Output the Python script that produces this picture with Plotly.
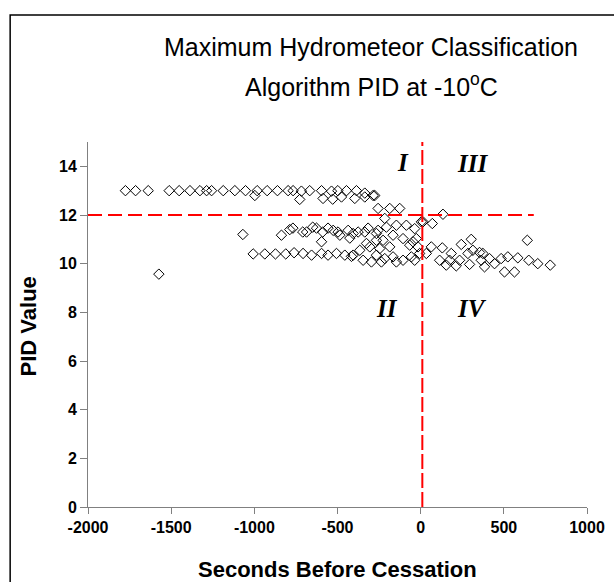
import plotly.graph_objects as go

# Seconds before cessation (x) and PID value (y)
secs = [
    # top row ~13
    -1775, -1714, -1638, -1512, -1452, -1387, -1327, -1287, -1257, -1187, -1117,
    -1053, -983, -923, -861, -797, -767, -717, -667, -596, -536, -498, -446,
    -386, -336, -997, -727, -587, -529, -476, -396, -286, -276, -336,
    # near 12
    -256, -186, -126, -216, 134, 4, 70,
    # middle band ~11.3
    -1069, -837, -787, -768, -709, -686, -649, -626, -589, -596, -557, -526,
    -497, -486, -436, -426, -406, -376, -336, -316, -266, -256, -206, -146,
    -86, -166, -226, -106, -306, -366, -246, -186, -66, -36, -26, -46, -16,
    14, -326, -266,
    # lower band ~10.4
    -1007, -937, -873, -811, -761, -707, -656, -596, -557, -506, -456, -416,
    -406, -346, -266, -216, -166, -106, -56, -6, -36, -296, -236, -146,
    34, 64, 130, 114, 174, 184, 234, 244, 304, 314, 284, 294, 354, 364, 214,
    154, 641, 374, 414, 384, 444, 484, 524, 584, 504, 564, 650, 704, 779,
    -1574,
]
pid = [
    13.0, 13.0, 13.0, 13.0, 13.0, 13.0, 13.0, 13.0, 13.0, 13.0, 13.0,
    13.0, 13.0, 13.0, 13.0, 13.0, 13.0, 12.98, 13.0, 13.0, 12.98, 13.0, 13.0,
    13.0, 12.9, 12.8, 12.64, 12.68, 12.65, 12.74, 12.68, 12.8, 12.8, 12.74,
    12.27, 12.27, 12.27, 11.86, 12.03, 11.72, 11.65,
    11.2, 11.17, 11.4, 11.46, 11.3, 11.3, 11.5, 11.46, 11.3, 10.9, 11.46, 11.37,
    11.3, 11.17, 11.37, 11.05, 11.24, 11.3, 11.3, 11.46, 11.24, 11.37, 11.5, 11.58,
    11.58, 11.17, 10.96, 11.03, 10.69, 10.55, 10.62, 10.69, 10.76, 11.44, 11.03, 10.9, 10.69,
    11.72, 10.83, 10.96,
    10.4, 10.4, 10.4, 10.4, 10.45, 10.42, 10.35, 10.42, 10.35, 10.42, 10.35, 10.3,
    10.35, 10.14, 10.35, 10.21, 10.28, 10.14, 10.28, 10.42, 10.14, 10.07, 10.07, 10.07,
    10.42, 10.69, 10.65, 10.14, 10.14, 10.42, 10.14, 10.79, 11.0, 10.55, 10.42, 9.97, 10.46, 10.14, 9.91,
    9.94, 10.96, 10.42, 10.21, 9.87, 10.0, 10.21, 10.28, 10.24, 9.66, 9.66, 10.14, 10.0, 9.94,
    9.57,
]

x_ticks = [-2000, -1500, -1000, -500, 0, 500, 1000]
x_tick_labels = ["-2000", "-1500", "-1000", "-500", "0", "500", "1000"]
y_ticks = [0, 2, 4, 6, 8, 10, 12, 14]
y_tick_labels = ["0", "2", "4", "6", "8", "10", "12", "14"]
threshold_pid = 12
cessation_x = 10
quadrants = ["I", "II", "III", "IV"]
quad_x = [-108, -204, 312, 308]
quad_y = [14.17, 8.17, 14.13, 8.17]

SANS = "Liberation Sans, Arial, Helvetica"

fig = go.Figure()

fig.add_trace(go.Scatter(
    x=secs, y=pid, mode="markers",
    marker=dict(symbol="diamond-open", size=8, color="black", line=dict(width=1, color="black")),
    showlegend=False, cliponaxis=False,
))

# dashed threshold lines
fig.add_trace(go.Scatter(
    x=[-2000, 680], y=[threshold_pid, threshold_pid], mode="lines",
    line=dict(color="#FF0000", width=2, dash="14px,6px"), showlegend=False,
))
fig.add_trace(go.Scatter(
    x=[cessation_x, cessation_x], y=[0, 15], mode="lines",
    line=dict(color="#FF0000", width=2, dash="15px,4px"), showlegend=False,
))

for t, qx, qy in zip(quadrants, quad_x, quad_y):
    fig.add_annotation(x=qx, y=qy, text=f"<b><i>{t}</i></b>", showarrow=False,
                       xanchor="center", yanchor="middle",
                       font=dict(family="Liberation Serif, Times New Roman", size=25, color="black"))

fig.add_annotation(xref="paper", yref="paper", x=0.568, y=1.26,
                   xanchor="center", yanchor="middle",
                   text="Maximum Hydrometeor Classification", showarrow=False,
                   font=dict(family=SANS, size=25, color="black"))
fig.add_annotation(xref="paper", yref="paper", x=0.568, y=1.155,
                   xanchor="center", yanchor="middle",
                   text="Algorithm PID at -10<sup>o</sup>C", showarrow=False,
                   font=dict(family=SANS, size=25, color="black"))

# axis titles
fig.add_annotation(xref="paper", yref="paper", x=0.5, y=-0.1726,
                   xanchor="center", yanchor="middle",
                   text="<b>Seconds Before Cessation</b>", showarrow=False,
                   font=dict(family=SANS, size=22, color="black"))
fig.add_annotation(xref="paper", yref="paper", x=-0.12, y=0.495, textangle=-90,
                   xanchor="center", yanchor="middle",
                   text="<b>PID Value</b>", showarrow=False,
                   font=dict(family=SANS, size=22, color="black"))

# outer frame
fig.add_shape(type="rect", xref="paper", yref="paper", x0=-0.156, x1=1.2, y0=-0.4, y1=1.348,
              line=dict(color="black", width=1.5), fillcolor="rgba(0,0,0,0)")

axis_font = dict(family=SANS, size=16, color="black", weight="bold")
fig.update_xaxes(range=[-2000, 1000], tickvals=x_ticks, ticktext=x_tick_labels,
                 ticks="outside", ticklen=6, automargin=False,
                 tickcolor="#808080", showline=True, linecolor="#808080", linewidth=1,
                 showgrid=False, zeroline=False, tickfont=axis_font)
fig.update_yaxes(range=[0, 15], tickvals=y_ticks, ticktext=y_tick_labels,
                 ticks="outside", ticklen=7, automargin=False,
                 tickcolor="#808080", showline=True, linecolor="#808080", linewidth=1,
                 showgrid=False, zeroline=False, tickfont=axis_font)

fig.update_layout(width=614, height=582, margin=dict(l=88, r=27, t=142, b=75),
                  plot_bgcolor="white", paper_bgcolor="white")

fig.write_html("out.html", config={"displayModeBar": False},
               post_script="document.body.style.margin='0';")
